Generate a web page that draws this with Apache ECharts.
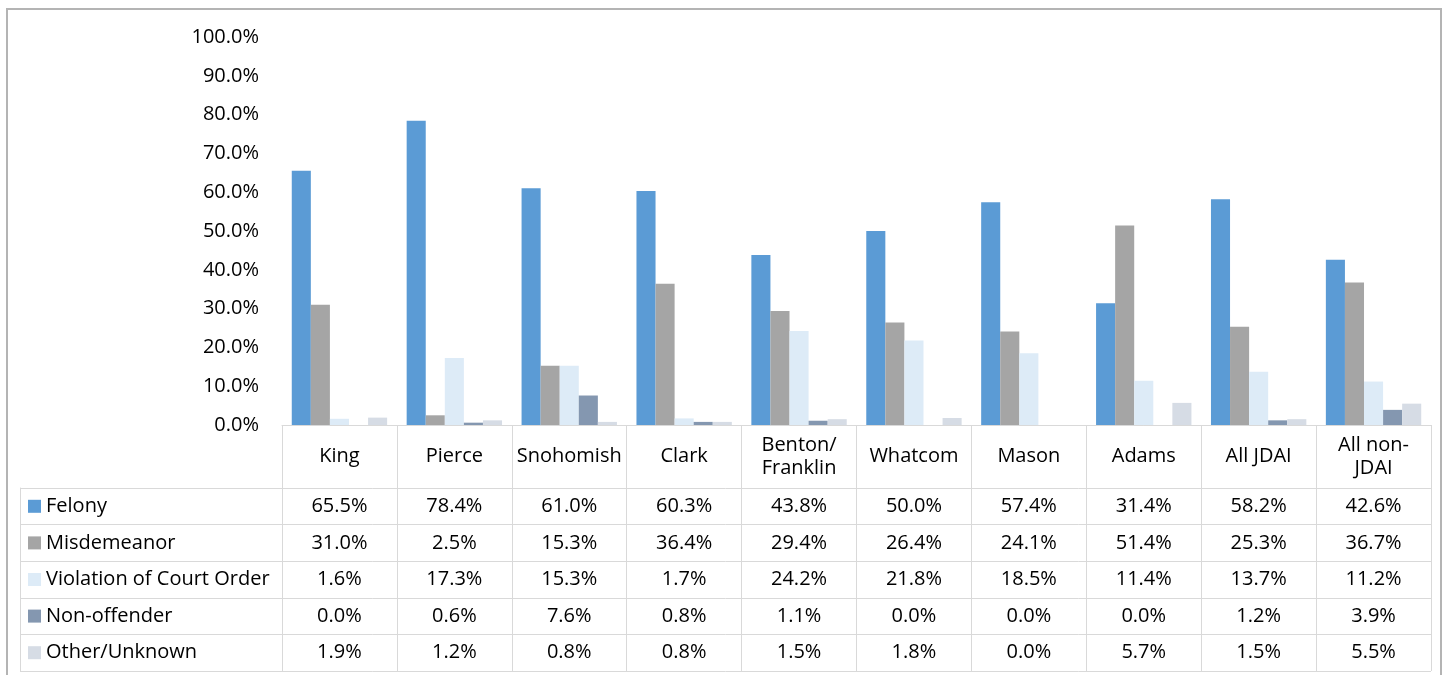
<!DOCTYPE html>
<html>
<head>
<meta charset="utf-8">
<script src="https://cdn.jsdelivr.net/npm/echarts@6/dist/echarts.min.js"></script>
<style>
  html, body { margin: 0; padding: 0; background: #fff; }
  #chart { position: absolute; left: 0; top: 0; width: 1448px; height: 675px; }
  #frame { position: absolute; left: 6px; top: 8px; width: 1436px; height: 700px;
           border: 2px solid #B4B4B4; pointer-events: none; box-sizing: border-box; }
</style>
</head>
<body>
<div id="chart"></div>
<div id="frame"></div>
<script>
const categories = ['King', 'Pierce', 'Snohomish', 'Clark', 'Benton/Franklin', 'Whatcom', 'Mason', 'Adams', 'All JDAI', 'All non-JDAI'];
const seriesNames = ['Felony', 'Misdemeanor', 'Violation of Court Order', 'Non-offender', 'Other/Unknown'];
const felony      = [65.5, 78.4, 61.0, 60.3, 43.8, 50.0, 57.4, 31.4, 58.2, 42.6];
const misdemeanor = [31.0, 2.5, 15.3, 36.4, 29.4, 26.4, 24.1, 51.4, 25.3, 36.7];
const violation   = [1.6, 17.3, 15.3, 1.7, 24.2, 21.8, 18.5, 11.4, 13.7, 11.2];
const nonOffender = [0.0, 0.6, 7.6, 0.8, 1.1, 0.0, 0.0, 0.0, 1.2, 3.9];
const otherUnknown = [1.9, 1.2, 0.8, 0.8, 1.5, 1.8, 0.0, 5.7, 1.5, 5.5];
const yTicks = { min: 0, max: 100, interval: 10 };

const rows = [felony, misdemeanor, violation, nonOffender, otherUnknown];
const colors = ['#5B9BD5', '#A5A5A5', '#DDEBF7', '#8497B0', '#D6DCE5'];

const FONT = 'Open Sans';
const TXT = '#000000';
const LINE = '#D9D9D9';
const W = 1448, H = 675;
const plotLeft = 282, plotRight = 1431, plotTop = 37, plotBottom = 425;
const tableLeft = 20, headerH = 63, rowH = 36.6;
const tableTop = plotBottom + headerH;
const tableBottom = tableTop + rowH * rows.length;

const pct = v => v.toFixed(1) + '%';
const wrapCat = s => s.replace('/', '/\n').replace('non-', 'non-\n');

const xAxes = [{
  type: 'category', gridIndex: 0, data: categories, position: 'bottom',
  axisLine: { show: true, lineStyle: { color: LINE, width: 1 } },
  axisTick: { show: true, interval: 0, length: tableBottom - plotBottom, lineStyle: { color: LINE, width: 1 } },
  axisLabel: { interval: 0, margin: headerH / 2, verticalAlign: 'middle', fontFamily: FONT, fontSize: 20,
               lineHeight: 23, color: TXT, formatter: v => wrapCat(v) },
  splitLine: { show: false }
}];
rows.forEach((row, i) => {
  xAxes.push({
    type: 'category', gridIndex: 0, data: categories, position: 'bottom',
    axisLine: { show: false }, axisTick: { show: false }, splitLine: { show: false },
    axisLabel: { interval: 0, margin: headerH + rowH * (i + 0.5), verticalAlign: 'middle',
                 fontFamily: FONT, fontSize: 20, color: TXT,
                 formatter: (v, idx) => pct(row[idx]) }
  });
});
xAxes.push({ type: 'value', gridIndex: 1, min: 0, max: 1, show: false });

const option = {
  animation: false,
  backgroundColor: '#ffffff',
  color: colors,
  textStyle: { fontFamily: FONT },
  grid: [
    { left: plotLeft, right: W - plotRight, top: plotTop, bottom: H - plotBottom },
    { left: tableLeft, right: W - plotRight, top: tableTop, bottom: H - tableBottom }
  ],
  legend: {
    orient: 'vertical', left: 28, top: tableTop + rowH / 2 - 10, padding: 0,
    itemWidth: 13, itemHeight: 13, itemGap: rowH - 20, icon: 'rect', selectedMode: false,
    textStyle: { fontFamily: FONT, fontSize: 20, lineHeight: 20, color: TXT, padding: [0, 0, 0, 0] },
    data: seriesNames
  },
  xAxis: xAxes,
  yAxis: [
    { type: 'value', gridIndex: 0, min: yTicks.min, max: yTicks.max, interval: yTicks.interval,
      axisLine: { show: false }, axisTick: { show: false }, splitLine: { show: false },
      axisLabel: { margin: 23, fontFamily: FONT, fontSize: 20, color: TXT, formatter: v => pct(v) } },
    { type: 'value', gridIndex: 1, min: 0, max: rows.length, interval: 1,
      axisLine: { show: true, onZero: false, lineStyle: { color: LINE, width: 1 } },
      axisTick: { show: false }, axisLabel: { show: false },
      splitLine: { show: true, lineStyle: { color: LINE, width: 1 } } }
  ],
  series: rows.map((row, i) => ({
    name: seriesNames[i], type: 'bar', xAxisIndex: 0, yAxisIndex: 0,
    data: row, barGap: '0%', barCategoryGap: '17%',
    itemStyle: { color: colors[i] }
  }))
};

const chart = echarts.init(document.getElementById('chart'), null, { renderer: 'canvas', width: W, height: H });
chart.setOption(option);
</script>
</body>
</html>
